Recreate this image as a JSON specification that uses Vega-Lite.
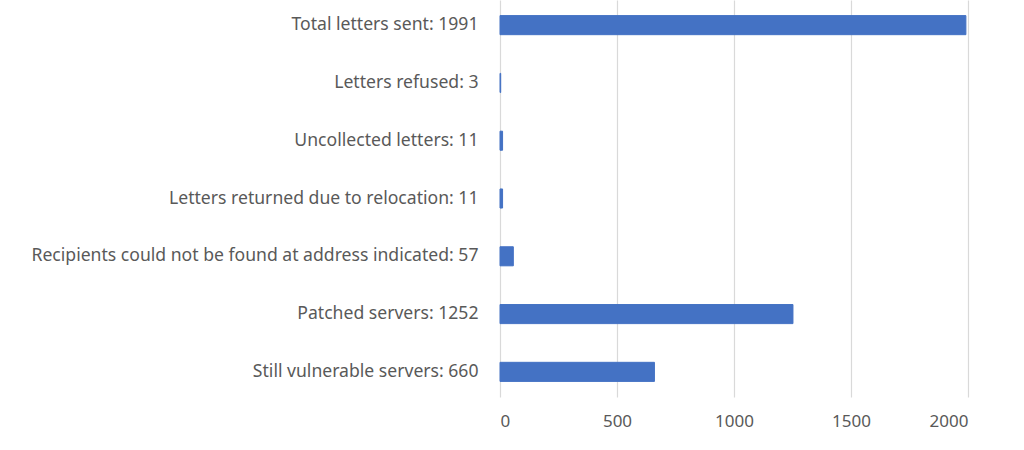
{
  "$schema": "https://vega.github.io/schema/vega-lite/v6.json",
  "autosize": "none",
  "padding": {"left": 500, "top": 0, "right": 56, "bottom": 55},
  "width": 468,
  "height": 397,
  "background": "white",
  "data": {
    "values": [
      {"label": "Total letters sent: 1991", "count": 1991},
      {"label": "Letters refused: 3", "count": 3},
      {"label": "Uncollected letters: 11", "count": 11},
      {"label": "Letters returned due to relocation: 11", "count": 11},
      {"label": "Recipients could not be found at address indicated: 57", "count": 57},
      {"label": "Patched servers: 1252", "count": 1252},
      {"label": "Still vulnerable servers: 660", "count": 660}
    ]
  },
  "mark": {"type": "bar", "color": "#4472C4", "stroke": "#4472C4", "strokeWidth": 1},
  "encoding": {
    "y": {
      "field": "label",
      "type": "nominal",
      "sort": null,
      "title": null,
      "scale": {"paddingInner": 0.67, "paddingOuter": 0.27},
      "axis": {"domain": false, "ticks": false, "labelPadding": 22, "labelFontSize": 17.6, "labelLimit": 520}
    },
    "x": {
      "field": "count",
      "type": "quantitative",
      "title": null,
      "scale": {"domain": [0, 2000]},
      "axis": {"values": [0, 500, 1000, 1500, 2000], "format": "d", "domain": false, "ticks": false, "labelPadding": 16, "labelFontSize": 17, "gridColor": "#d9d9d9", "gridWidth": 1.2}
    },
    "tooltip": [
      {"field": "label", "type": "nominal"},
      {"field": "count", "type": "quantitative"}
    ]
  },
  "config": {
    "view": {"stroke": null},
    "axis": {"labelFont": "Noto Sans", "labelColor": "#595959", "grid": true},
    "axisY": {"grid": false}
  }
}
